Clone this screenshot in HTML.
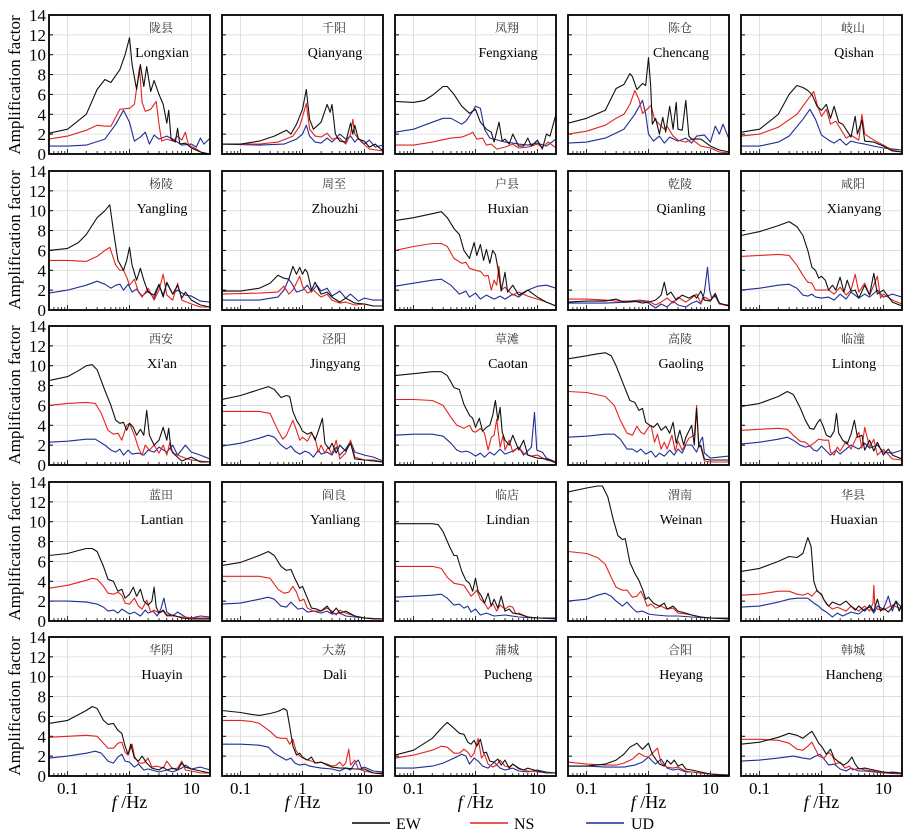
<!DOCTYPE html>
<html><head><meta charset="utf-8"><style>
html,body{margin:0;padding:0;background:#fff;}
svg{display:block;}
text{font-family:"Liberation Serif","Noto Serif CJK SC",serif;}
</style></head><body>
<svg id="chart" width="916" height="833" viewBox="0 0 916 833" xmlns="http://www.w3.org/2000/svg">
<text transform="translate(20,85) rotate(-90)" text-anchor="middle" font-size="17">Amplification factor</text>
<text transform="translate(20,240) rotate(-90)" text-anchor="middle" font-size="17">Amplification factor</text>
<text transform="translate(20,395) rotate(-90)" text-anchor="middle" font-size="17">Amplification factor</text>
<text transform="translate(20,551) rotate(-90)" text-anchor="middle" font-size="17">Amplification factor</text>
<text transform="translate(20,706) rotate(-90)" text-anchor="middle" font-size="17">Amplification factor</text>
<g>
<line x1="352" y1="823" x2="390" y2="823" stroke="#000" stroke-width="1.5"/>
<text x="396" y="829" font-size="16">EW</text>
<line x1="470" y1="823" x2="508" y2="823" stroke="#e3231c" stroke-width="1.5"/>
<text x="514" y="829" font-size="16">NS</text>
<line x1="586" y1="823" x2="624" y2="823" stroke="#1f2d96" stroke-width="1.5"/>
<text x="631" y="829" font-size="16">UD</text>
</g>
</svg>
<script>
const yTicks=[0,2,4,6,8,10,12,14];
const xTicks=[0.1,1,10];
const xTickLabels=["0.1","1","10"];
const cnNames=["陇县","千阳","凤翔","陈仓","岐山","杨陵","周至","户县","乾陵","咸阳","西安","泾阳","草滩","高陵","临潼","蓝田","阎良","临店","渭南","华县","华阴","大荔","蒲城","合阳","韩城"];
const enNames=["Longxian","Qianyang","Fengxiang","Chencang","Qishan","Yangling","Zhouzhi","Huxian","Qianling","Xianyang","Xi'an","Jingyang","Caotan","Gaoling","Lintong","Lantian","Yanliang","Lindian","Weinan","Huaxian","Huayin","Dali","Pucheng","Heyang","Hancheng"];
const ewLongxian=[[0.05,2.1],[0.1,2.5],[0.2,4],[0.3,6.5],[0.4,7.5],[0.5,7.2],[0.7,8.5],[0.85,10],[1,11.7],[1.1,9],[1.3,6.5],[1.5,9],[1.7,6.8],[1.9,8.8],[2.2,6.3],[2.5,7.4],[3,6],[3.5,5],[4,3.1],[4.3,4.4],[4.7,1.5],[5.5,1.2],[6,2.6],[6.5,1],[8,1.1],[10,0.6],[14,0.2],[20,0]];
const nsLongxian=[[0.05,1.5],[0.1,1.8],[0.2,2.4],[0.3,2.9],[0.4,2.8],[0.5,2.8],[0.7,4.5],[1,4.6],[1.2,5],[1.45,8.7],[1.6,5.2],[1.8,4.3],[2.2,4.5],[2.7,5.3],[3,3],[3.3,1.3],[4,1.5],[5,1.3],[6,1.8],[7,1.4],[8,2.2],[9,0.9],[12,0.5],[15,0.1],[20,0]];
const udLongxian=[[0.05,0.8],[0.1,0.8],[0.2,0.9],[0.4,1.5],[0.6,3],[0.8,4.4],[1,3.2],[1.2,1.3],[1.5,1.7],[1.8,2.2],[2.1,1],[2.5,1.9],[3,1.5],[4,1.8],[5,1.5],[7,0.9],[10,1],[12,0.7],[14,1.6],[16,1],[20,1.6]];
const ewQianyang=[[0.05,1],[0.1,1],[0.2,1.3],[0.35,1.8],[0.55,2.4],[0.65,2],[0.8,3],[1,4.5],[1.15,6.5],[1.3,3.5],[1.5,2.5],[2,3.2],[2.5,5],[2.8,4.2],[3,5],[3.4,2],[4,1.3],[5,1.2],[6,3.1],[6.5,2],[7,2.9],[8,1.5],[10,1.3],[12,0.7],[15,1],[20,0.3]];
const nsQianyang=[[0.05,1],[0.2,1],[0.4,1.2],[0.7,1.8],[0.9,2.8],[1.05,4.2],[1.15,5.1],[1.3,2.5],[1.6,1.8],[2,1.7],[2.5,2.1],[3,1.5],[4,1.6],[5,1],[6,2],[6.5,3.5],[7,2],[9,1.2],[12,0.5],[20,0.3]];
const udQianyang=[[0.05,1],[0.2,0.9],[0.5,1],[0.8,1.5],[1,2],[1.15,2.9],[1.3,1.8],[1.6,1.2],[2,1.1],[2.5,1.6],[3,1.2],[4,2],[5,1.5],[6,1.8],[7,1.2],[8,1.6],[10,1],[12,1.4],[15,0.7],[20,0.9]];
const ewFengxiang=[[0.05,5.3],[0.1,5.2],[0.15,5.4],[0.2,5.9],[0.3,6.8],[0.35,6.8],[0.45,6],[0.6,4.8],[0.8,4.1],[1,4.5],[1.2,3.2],[1.5,2.5],[1.8,2.2],[2,1.2],[2.4,3.2],[2.7,1.3],[3,1.5],[3.5,1],[4,2],[5,0.8],[6,0.8],[7,1.6],[8,0.8],[10,1.4],[12,0.5],[14,2],[16,1.8],[20,4]];
const nsFengxiang=[[0.05,0.9],[0.1,0.9],[0.2,1.2],[0.4,1.6],[0.6,1.7],[0.8,2],[0.9,2.2],[1.05,1.5],[1.3,1.6],[1.5,0.9],[1.8,1],[2.2,0.5],[3,0.7],[4,1],[5,0.6],[7,0.7],[10,1],[12,0.7],[15,1.2],[20,0.6]];
const udFengxiang=[[0.05,2.2],[0.1,2.5],[0.2,3.2],[0.3,3.6],[0.4,3.6],[0.6,3],[0.7,3.3],[0.9,4.3],[1,4.8],[1.2,4.6],[1.4,2.5],[1.7,1.6],[2,1.5],[3,1.2],[4,1.1],[5,1],[7,0.9],[10,1.1],[14,0.8],[20,1.5]];
const ewChencang=[[0.05,3.1],[0.1,3.6],[0.2,4.4],[0.3,6.6],[0.4,7],[0.5,8.1],[0.55,7.8],[0.65,6.5],[0.8,7.1],[0.9,6.9],[1,9.7],[1.08,7],[1.15,3],[1.3,3.6],[1.5,2],[1.7,3.7],[1.9,2.2],[2.2,4.8],[2.5,2.5],[2.8,5.2],[3,2.5],[3.5,2.4],[4,5.4],[4.5,1.8],[5,1.5],[7,1.5],[10,0.8],[14,0.4],[20,0.2]];
const nsChencang=[[0.05,2],[0.1,2.3],[0.2,2.9],[0.3,3.6],[0.4,4],[0.5,5],[0.6,6.4],[0.7,5.5],[0.8,4.1],[0.95,4.5],[1.1,4.9],[1.25,3.5],[1.5,3],[1.8,2.5],[2,2.8],[2.5,1.8],[3,1.4],[4,1.2],[5,1.5],[7,0.8],[10,0.6],[14,0.2],[20,0.1]];
const udChencang=[[0.05,1.1],[0.1,1.2],[0.2,1.6],[0.4,2.5],[0.6,4],[0.8,5.4],[0.9,4],[1,2],[1.2,1.3],[1.5,1.8],[1.8,1.1],[2.2,1.7],[3,1.3],[4,1.6],[5,1.1],[6,1.8],[8,1.9],[10,1.2],[12,2.8],[14,2],[16,3],[20,1.5]];
const ewQishan=[[0.05,2.2],[0.1,2.5],[0.2,4],[0.3,6],[0.4,6.9],[0.5,6.7],[0.6,6.4],[0.7,6],[0.85,4.8],[1,4.4],[1.2,5],[1.4,3.6],[1.6,4.8],[1.9,3.2],[2.2,3],[3,1.7],[3.5,3.8],[3.8,2],[4.5,3.4],[5,1.3],[7,1.2],[10,0.8],[14,0.3],[20,0.2]];
const nsQishan=[[0.05,1.8],[0.1,2],[0.2,2.7],[0.4,4],[0.6,5.5],[0.75,6.3],[0.85,5],[1,3.8],[1.2,4.5],[1.4,3],[1.7,3.3],[2,2.6],[2.5,1.6],[3,1.9],[4,1.4],[4.5,4],[5,2],[7,1.4],[10,0.9],[14,0.4],[20,0.2]];
const udQishan=[[0.05,0.8],[0.1,0.8],[0.2,1.2],[0.3,1.8],[0.5,3.5],[0.65,4.5],[0.8,3.5],[1,1.9],[1.3,1.4],[1.6,1.1],[2,1.5],[2.5,0.9],[3,1.3],[4,1.1],[5,1],[7,0.8],[10,0.6],[20,0.4]];
const ewYangling=[[0.05,6],[0.1,6.2],[0.15,6.8],[0.2,7.6],[0.3,9.3],[0.4,10],[0.48,10.6],[0.55,8],[0.65,5],[0.8,4],[0.9,5],[1,6.3],[1.1,4.5],[1.3,3],[1.5,4.2],[1.7,3],[2,1.8],[2.5,1.5],[3,2.6],[3.5,1.3],[4,2.8],[5,1.6],[6,2.5],[7,1.2],[8,1.8],[10,1],[14,0.5],[20,0.3]];
const nsYangling=[[0.05,5],[0.1,5],[0.2,4.9],[0.3,5.4],[0.4,6],[0.48,6.3],[0.6,4.5],[0.7,4],[0.8,4],[0.9,3.3],[1,2.5],[1.2,3.1],[1.4,1.8],[1.6,1.3],[2,2.2],[2.5,1],[3,2],[3.5,3.6],[4,1.5],[5,1],[6,2.7],[7,1],[10,0.6],[14,0.3],[20,0.3]];
const udYangling=[[0.05,1.7],[0.1,2],[0.2,2.5],[0.3,2.9],[0.4,2.6],[0.5,2.2],[0.6,2.5],[0.7,2.6],[0.8,2],[0.95,2.6],[1.1,1.8],[1.3,2.1],[1.6,1.4],[2,1.9],[2.5,1.2],[3,2.5],[3.5,1.5],[4,2.7],[5,1.6],[6,2],[8,1.5],[10,1.4],[14,0.9],[20,0.8]];
const ewZhouzhi=[[0.05,1.9],[0.1,1.9],[0.2,2.2],[0.3,2.7],[0.4,3.5],[0.5,3.2],[0.6,3.1],[0.7,4.4],[0.8,3.6],[0.9,4.3],[1,3.6],[1.1,4.1],[1.2,3.8],[1.4,2],[1.6,2.8],[2,1.6],[2.5,1.8],[3,1.3],[4,0.8],[5,1.2],[7,0.7],[10,0.6],[14,0.4],[20,0.4]];
const nsZhouzhi=[[0.05,1.6],[0.2,1.7],[0.4,1.8],[0.5,2.4],[0.6,1.6],[0.7,2],[0.9,3.4],[1,2.4],[1.2,1.7],[1.5,2],[2,1.3],[2.5,1.6],[3,1],[4,0.7],[5,0.8],[7,0.5],[10,0.6],[14,0.4],[20,0.4]];
const udZhouzhi=[[0.05,1],[0.2,1],[0.4,1.3],[0.5,2],[0.6,3.1],[0.7,2.5],[0.8,1.8],[1,2],[1.2,2.5],[1.4,1.8],[1.7,2.5],[2,1.9],[2.5,2.2],[3,1.4],[4,1.9],[5,1.2],[6,1.6],[8,0.9],[10,1.2],[14,1],[20,1]];
const ewHuxian=[[0.05,9],[0.1,9.3],[0.2,9.7],[0.28,9.9],[0.35,9.3],[0.45,8.2],[0.55,7.6],[0.65,6],[0.8,5.2],[0.95,6.8],[1.05,5.5],[1.2,6.6],[1.35,5],[1.5,6.1],[1.7,4.7],[1.9,6],[2.1,5.6],[2.3,4.2],[2.6,1.9],[3,3.8],[3.3,1.8],[4,2.5],[5,1.5],[7,2],[10,1.3],[14,0.8],[20,0.4]];
const nsHuxian=[[0.05,6],[0.1,6.4],[0.2,6.7],[0.28,6.7],[0.35,6.4],[0.45,5.2],[0.6,4.7],[0.7,4.8],[0.8,4.2],[1,4],[1.2,3.9],[1.4,3.4],[1.6,3.5],[1.8,2],[2,3],[2.2,2.5],[2.4,4.4],[2.6,2],[3,2.3],[4,1.5],[5,1.8],[7,1.4],[10,1.1],[14,0.8],[20,0.4]];
const udHuxian=[[0.05,2.4],[0.1,2.7],[0.2,3],[0.28,3.1],[0.4,2.5],[0.55,1.6],[0.7,1.9],[0.8,1.3],[1,1.7],[1.2,1.1],[1.5,1.5],[2,1.1],[2.5,1.4],[3,1.1],[4,1.6],[5,1.3],[7,2],[10,2.4],[14,2.5],[20,2.2]];
const ewQianling=[[0.05,0.8],[0.1,0.9],[0.2,0.9],[0.3,1.1],[0.4,0.8],[0.6,0.9],[0.8,0.7],[1,0.8],[1.3,1],[1.6,1.5],[1.8,2.8],[2,1.5],[2.3,1.8],[2.8,1],[3.5,1.5],[4.5,1.2],[5.5,1.5],[6,1.2],[7,1.9],[8,1],[10,0.9],[12,1.6],[14,0.7],[20,0.4]];
const nsQianling=[[0.05,1.1],[0.1,1.1],[0.2,1],[0.3,0.9],[0.5,0.9],[0.7,1],[1,0.9],[1.3,0.5],[1.6,0.8],[2,1.2],[2.5,0.7],[3,1.3],[4,0.8],[5,1.2],[6,1.6],[7,0.7],[8,1.3],[10,1],[12,1.7],[14,0.6],[20,0.4]];
const udQianling=[[0.05,0.7],[0.2,0.7],[0.5,0.8],[0.8,0.9],[1,0.7],[1.3,0.2],[1.6,0.6],[2,0.3],[2.5,0.9],[3,0.5],[4,0.3],[5,0.7],[6,0.9],[7,0.6],[8,1.8],[9,4.3],[9.7,2],[10.5,1.2],[12,1.4],[14,0.6],[20,0.5]];
const ewXianyang=[[0.05,7.5],[0.1,7.9],[0.2,8.5],[0.3,8.9],[0.4,8.4],[0.5,7.5],[0.6,6],[0.7,4.3],[0.8,4],[0.9,3.2],[1,3.4],[1.15,3],[1.3,2],[1.5,2.5],[1.7,2],[2,3.3],[2.3,1.8],[2.6,3],[3,1.9],[3.5,2],[4,1.2],[5,2.5],[6,1.5],[7,3.7],[8,1.6],[10,2],[14,0.8],[20,0.4]];
const nsXianyang=[[0.05,5.4],[0.1,5.5],[0.2,5.6],[0.3,5.5],[0.4,4.5],[0.5,3.5],[0.6,2.8],[0.7,2.7],[0.8,2],[1,2],[1.3,2],[1.6,1.6],[2,2.3],[2.5,1.5],[3,2],[3.5,3.6],[4,1.8],[5,2.7],[6,1.5],[7,2.5],[8,3.4],[9,1.2],[10,1.6],[14,1],[20,0.6]];
const udXianyang=[[0.05,2],[0.1,2.2],[0.2,2.5],[0.3,2.6],[0.4,2.2],[0.5,1.5],[0.6,1.4],[0.7,1.6],[0.8,1.3],[1,1.2],[1.3,1.3],[1.6,1],[2,1.6],[2.5,1.1],[3,1.8],[4,1.2],[5,1.6],[6,1.3],[8,2],[10,1.3],[14,1.6],[20,1.3]];
const ewXian=[[0.05,8.5],[0.1,8.9],[0.15,9.5],[0.2,10],[0.25,10.1],[0.3,9.6],[0.4,7.5],[0.5,6],[0.6,4.5],[0.7,4.2],[0.8,4.3],[0.9,3.5],[1,4.2],[1.15,3.8],[1.3,3],[1.5,3.6],[1.7,3],[1.9,5.5],[2.1,3],[2.5,2],[3,2.5],[3.5,3.8],[4,2.5],[4.3,3.7],[4.7,1.5],[5.5,1],[7,0.4],[10,0.8],[14,0.3],[20,0.3]];
const nsXian=[[0.05,6],[0.1,6.2],[0.2,6.3],[0.28,6.2],[0.35,5.2],[0.45,3.5],[0.55,3.1],[0.65,3.2],[0.75,2.5],[0.9,4],[1,4.2],[1.2,3],[1.4,1.7],[1.6,1],[1.8,2],[2.1,1.5],[2.5,2],[3,1.2],[3.5,2],[4,1],[4.5,2.3],[5,1.2],[6,1],[8,0.7],[10,0.5],[14,0.4],[20,0.3]];
const udXian=[[0.05,2.3],[0.1,2.4],[0.2,2.6],[0.28,2.6],[0.4,2],[0.5,1.5],[0.6,1.3],[0.7,1.6],[0.8,1],[0.95,1.5],[1.1,1.1],[1.4,1.2],[1.7,1],[2,1.5],[2.5,1.3],[3,1.8],[4,1.3],[5,2],[6,1],[8,2],[10,1.3],[14,1],[20,0.6]];
const ewJingyang=[[0.05,6.6],[0.1,7],[0.2,7.6],[0.28,7.9],[0.35,7.6],[0.45,6.8],[0.55,7],[0.62,6.9],[0.7,5.4],[0.8,4.5],[0.9,4],[1,3.4],[1.2,3.1],[1.4,3.3],[1.6,2.5],[1.8,3.4],[2.1,4.7],[2.3,2.2],[2.7,1.6],[3,2.2],[3.5,1.2],[4,2],[5,1.4],[6,2.2],[7,0.6],[10,0.5],[14,0.4],[20,0.3]];
const nsJingyang=[[0.05,5.4],[0.1,5.4],[0.2,5.4],[0.3,5.2],[0.4,3.5],[0.48,2.6],[0.55,3],[0.7,4.5],[0.8,3.5],[0.9,2.5],[1,2.8],[1.2,2.4],[1.4,3.2],[1.6,2.7],[1.8,1.3],[2,2],[2.3,1.2],[2.6,1.8],[3,1.1],[3.5,2.5],[4,0.6],[5,1.2],[6,2.5],[7,0.8],[10,0.5],[14,0.5],[20,0.3]];
const udJingyang=[[0.05,1.9],[0.1,2.2],[0.2,2.7],[0.28,3],[0.35,2.8],[0.45,2],[0.55,1.6],[0.65,1.9],[0.75,1.4],[0.9,1.1],[1.1,1.4],[1.3,1.2],[1.5,0.8],[1.8,1.5],[2,1.1],[2.5,1.3],[3,1],[3.5,1.8],[4,1],[5,1.6],[6,2.4],[7,1.3],[10,1],[14,0.8],[20,0.4]];
const ewCaotan=[[0.05,9],[0.1,9.2],[0.2,9.4],[0.28,9.4],[0.35,9],[0.45,7.8],[0.55,7.6],[0.65,6.1],[0.8,5],[0.9,4.7],[1,3.8],[1.15,4.7],[1.3,3.4],[1.5,3.8],[1.7,4],[1.9,5],[2.1,6.5],[2.3,4.5],[2.5,5.8],[2.7,3.3],[3,2.5],[3.5,2],[4,3],[5,1.5],[6,2.5],[7,1],[10,0.7],[14,0.6],[20,0.2]];
const nsCaotan=[[0.05,6.6],[0.1,6.6],[0.2,6.5],[0.3,6],[0.4,4.8],[0.5,4],[0.65,3.7],[0.8,4],[0.9,3.4],[1,3.3],[1.2,3.7],[1.4,3.2],[1.6,1.5],[1.8,2.8],[2,3],[2.2,4.6],[2.5,1.8],[2.8,3],[3,1.5],[3.5,2.5],[4,1.3],[5,1.8],[6,1.2],[8,0.9],[10,1],[14,0.5],[20,0.3]];
const udCaotan=[[0.05,3],[0.1,3.1],[0.2,3.1],[0.3,2.9],[0.4,2.2],[0.5,1.5],[0.6,1.3],[0.7,1.4],[0.8,1.3],[1,0.9],[1.2,1.2],[1.4,0.8],[1.7,1.3],[2,1],[2.5,1.6],[3,1.1],[4,1.4],[5,1.8],[6,1],[8,1.8],[9,5.3],[9.8,1.5],[12,1.3],[14,0.7],[20,0.3]];
const ewGaoling=[[0.05,10.7],[0.1,11],[0.15,11.2],[0.2,11.3],[0.25,11],[0.3,10],[0.4,8],[0.5,6.5],[0.6,6.3],[0.7,5.5],[0.8,5.7],[0.9,4.3],[1.05,4],[1.2,3.8],[1.4,4.2],[1.6,3.5],[1.9,3.9],[2.2,3.2],[2.5,4.3],[2.8,2.2],[3.2,3.5],[3.7,2],[4,2.8],[5,4],[5.5,2],[6,5.7],[6.5,1.8],[7,2],[8,0.6],[10,0.5],[14,0.5],[20,0.5]];
const nsGaoling=[[0.05,7.4],[0.1,7.3],[0.2,6.9],[0.28,6],[0.35,4.5],[0.45,3.2],[0.55,3],[0.65,3.9],[0.75,3.3],[0.85,3.1],[1,3.8],[1.1,4],[1.25,2.3],[1.4,3.1],[1.6,1.6],[1.8,2.3],[2,1.6],[2.4,3],[2.7,1.4],[3,2.4],[3.5,1.5],[4.5,2.7],[5.5,3],[6,6],[6.5,2],[7,1.8],[8,0.4],[10,0.3],[14,0.3],[20,0.3]];
const udGaoling=[[0.05,2.8],[0.1,2.9],[0.2,3.1],[0.28,3.1],[0.35,2.6],[0.45,1.6],[0.55,1.6],[0.65,1.3],[0.75,1.6],[0.9,1.1],[1.1,1.4],[1.3,0.8],[1.5,1.2],[1.8,0.9],[2.2,1.5],[2.6,1],[3,1.6],[3.5,1.2],[4,2],[5,2],[6,1.3],[7,2.5],[7.5,2.8],[8,1.2],[10,0.7],[14,0.8],[20,0.9]];
const ewLintong=[[0.05,5.9],[0.1,6.2],[0.2,6.9],[0.28,7.4],[0.35,7.1],[0.45,5.8],[0.55,4.5],[0.65,3.7],[0.75,3.6],[0.85,4.2],[0.95,4.6],[1.05,4],[1.2,3],[1.4,2.8],[1.6,3.4],[1.75,5.2],[1.9,3.2],[2.2,2.5],[2.6,2.1],[3,3.1],[3.4,4.5],[3.8,2.8],[4.5,3],[5,1.5],[6,2.5],[7,1.4],[8,2.3],[10,1],[12,1.6],[14,1],[20,0.6]];
const nsLintong=[[0.05,3.5],[0.1,3.6],[0.2,3.7],[0.28,3.6],[0.35,3],[0.45,2.4],[0.55,2.3],[0.65,1.9],[0.75,2.2],[0.9,2.6],[1.1,2.5],[1.3,2.5],[1.4,1.3],[1.6,1],[1.8,1.8],[2,1.4],[2.5,2.4],[3,1.6],[3.5,2.5],[4,3.3],[4.5,1.7],[5,3.8],[6,1.8],[7,2.6],[8,1],[10,1.6],[14,0.6],[20,0.5]];
const udLintong=[[0.05,2.1],[0.1,2.3],[0.2,2.6],[0.28,2.8],[0.35,2.5],[0.45,2],[0.55,1.8],[0.65,1.9],[0.75,1.5],[0.85,1.4],[1,1.9],[1.2,1.4],[1.4,1],[1.7,1.5],[2,1.1],[2.5,1.6],[3,2],[4,1.6],[5,2.2],[6,1.7],[8,2],[10,1.3],[14,1.2],[20,1.5]];
const ewLantian=[[0.05,6.6],[0.1,6.8],[0.15,7.1],[0.2,7.3],[0.25,7.3],[0.3,7],[0.38,5.5],[0.45,4.2],[0.55,4],[0.65,3],[0.75,3.2],[0.85,2.3],[1,2.7],[1.15,3.4],[1.3,2.5],[1.5,3.2],[1.7,2],[2,1.6],[2.3,2],[2.5,3.4],[2.7,1.4],[3,0.8],[3.5,1.1],[4,0.6],[5,0.6],[7,0.3],[10,0.2],[14,0.2],[20,0.2]];
const nsLantian=[[0.05,3.3],[0.1,3.6],[0.2,4.1],[0.25,4.3],[0.3,4.2],[0.38,3.5],[0.45,2.8],[0.55,2.7],[0.65,2.9],[0.75,2.6],[0.85,1.8],[1,1.7],[1.2,2.3],[1.4,1.5],[1.6,1.2],[1.9,2.1],[2.2,0.9],[2.5,1.1],[3,0.8],[3.5,1],[4,0.5],[5,0.5],[7,0.4],[10,0.3],[14,0.3],[20,0.3]];
const udLantian=[[0.05,2],[0.1,2],[0.2,1.9],[0.3,1.7],[0.38,1.4],[0.45,1],[0.55,1.1],[0.65,0.8],[0.75,1.2],[0.85,1],[1,0.7],[1.2,0.9],[1.5,0.5],[1.8,1.1],[2,0.8],[2.4,1],[2.8,0.5],[3.2,1.2],[3.6,2.3],[4,0.9],[5,0.5],[6,0.9],[8,0.4],[10,0.3],[14,0.5],[20,0.4]];
const ewYanliang=[[0.05,5.6],[0.1,5.9],[0.2,6.6],[0.28,7],[0.35,6.6],[0.45,5.5],[0.55,5.1],[0.65,5.2],[0.75,4.3],[0.9,3.3],[1,3.5],[1.2,2.3],[1.4,1.3],[1.7,1.2],[2,1],[2.5,1.5],[3,0.8],[3.5,1.3],[4,0.8],[5,1],[7,0.5],[10,0.3],[14,0.2],[20,0.2]];
const nsYanliang=[[0.05,4.5],[0.1,4.5],[0.2,4.5],[0.3,4.3],[0.4,3.2],[0.5,2.8],[0.6,2.9],[0.7,3.5],[0.8,2.9],[0.9,2],[1.05,2.2],[1.2,1.3],[1.5,1],[2,1],[2.5,1.3],[3,1],[3.5,0.6],[4,1.1],[5,0.8],[7,0.5],[10,0.3],[20,0.2]];
const udYanliang=[[0.05,1.7],[0.1,1.8],[0.2,2.2],[0.28,2.4],[0.35,2.2],[0.45,1.5],[0.55,1.4],[0.65,1.9],[0.75,1.5],[0.85,1.2],[1,1.3],[1.2,0.9],[1.5,1],[2,0.8],[2.5,1],[3,0.7],[4,0.8],[5,0.5],[7,0.4],[10,0.3],[20,0.2]];
const ewLindian=[[0.05,9.8],[0.1,9.8],[0.2,9.8],[0.25,9.7],[0.3,9],[0.38,7.5],[0.45,6.6],[0.5,6.6],[0.6,5],[0.7,4.1],[0.8,3.8],[0.9,3],[1,4.3],[1.1,3],[1.25,2.5],[1.4,1.8],[1.6,2.8],[1.8,1.5],[2,2.2],[2.3,1.3],[2.6,2.5],[3,1],[3.5,1.2],[4,0.8],[5,0.7],[7,0.4],[10,0.3],[20,0.3]];
const nsLindian=[[0.05,5.5],[0.1,5.5],[0.2,5.5],[0.28,5.3],[0.35,4.4],[0.45,3.8],[0.55,3.7],[0.65,3.6],[0.75,3],[0.85,2.5],[0.95,2.8],[1.05,3.1],[1.2,2.2],[1.4,1.8],[1.6,1.2],[1.9,1.8],[2.2,1],[2.5,1.6],[3,1.2],[3.5,1.5],[4,1.4],[4.5,0.7],[5,0.8],[7,0.4],[10,0.3],[20,0.3]];
const udLindian=[[0.05,2.4],[0.1,2.5],[0.2,2.6],[0.28,2.7],[0.35,2.3],[0.45,1.6],[0.55,1.7],[0.65,1.3],[0.75,1.5],[0.85,0.9],[1,1.2],[1.2,0.6],[1.5,0.8],[2,0.5],[3,0.6],[5,0.4],[10,0.3],[20,0.2]];
const ewWeinan=[[0.05,13],[0.1,13.4],[0.15,13.6],[0.18,13.6],[0.22,12.5],[0.27,10.2],[0.32,8.6],[0.38,8.2],[0.42,8.3],[0.5,5.9],[0.6,4.8],[0.7,4.1],[0.8,3.2],[0.9,2.2],[1,2.4],[1.2,1.8],[1.5,1.5],[1.8,1.8],[2,1.2],[2.5,1.5],[3,1],[4,0.8],[5,0.6],[7,0.4],[10,0.3],[20,0.2]];
const nsWeinan=[[0.05,7],[0.1,6.8],[0.15,6.4],[0.2,5.7],[0.25,4.4],[0.3,3.4],[0.38,3.1],[0.45,3.1],[0.55,2.4],[0.65,2.5],[0.75,3],[0.85,2.3],[0.95,1.5],[1.1,1.7],[1.3,1.3],[1.6,1.5],[2,1.2],[2.5,1.3],[3,0.8],[4,0.7],[5,0.6],[7,0.4],[10,0.3],[20,0.2]];
const udWeinan=[[0.05,2],[0.1,2.2],[0.15,2.6],[0.2,2.8],[0.25,2.5],[0.3,2],[0.38,1.5],[0.45,1.9],[0.55,1.3],[0.65,0.9],[0.8,1],[1,0.7],[1.3,0.6],[2,0.5],[3,0.5],[5,0.4],[10,0.3],[20,0.3]];
const ewHuaxian=[[0.05,5],[0.1,5.3],[0.2,6],[0.3,6.5],[0.4,6.4],[0.5,6.8],[0.6,8.4],[0.68,7.5],[0.75,4],[0.85,3],[1,2.7],[1.1,2.1],[1.3,1.5],[1.5,1.9],[2,1.6],[2.5,2],[3,1.5],[3.5,1.1],[4,1.5],[5,1],[6,1.6],[7,1],[8,2.2],[9,1],[10,1.3],[12,0.9],[14,1.4],[16,2],[18,1],[20,1.7]];
const nsHuaxian=[[0.05,2.6],[0.1,2.7],[0.2,3],[0.3,3],[0.4,2.7],[0.5,2.6],[0.6,2.8],[0.7,2.5],[0.85,3.1],[1,2.6],[1.2,1.7],[1.5,1.2],[1.8,1.4],[2.5,1],[3,1.5],[4,1],[5,1.5],[6,1],[6.8,1.8],[7,3.6],[7.3,1.5],[8,1.2],[10,1.1],[14,1.6],[20,1.2]];
const udHuaxian=[[0.05,1.4],[0.1,1.5],[0.2,1.9],[0.3,2.2],[0.4,2.3],[0.5,2.3],[0.6,2.3],[0.75,1.8],[0.9,1.5],[1,1.2],[1.2,0.9],[1.5,0.4],[1.8,0.8],[2.2,0.5],[3,0.9],[4,0.7],[5,1.2],[6,1.4],[7,0.8],[8,1.5],[10,1.2],[12,2.5],[14,1],[16,2],[20,1.3]];
const ewHuayin=[[0.05,5.3],[0.1,5.6],[0.2,6.6],[0.25,7],[0.3,6.8],[0.38,5.6],[0.45,5.2],[0.55,5.3],[0.65,4.6],[0.75,4.3],[0.85,3],[0.95,2.2],[1.05,3.2],[1.2,1.8],[1.4,1.5],[1.6,2],[1.9,1.3],[2.3,0.8],[3,0.6],[3.5,0.9],[4,0.6],[5,0.8],[6,0.6],[7,1.3],[8,0.9],[10,0.7],[14,0.5],[20,0.3]];
const nsHuayin=[[0.05,3.9],[0.1,4],[0.2,4.1],[0.3,4],[0.38,3.3],[0.45,2.8],[0.55,2.8],[0.65,3.3],[0.75,3.4],[0.85,2.4],[0.95,2.1],[1.1,3.2],[1.2,2],[1.4,1.3],[1.7,1.3],[2,1.8],[2.3,0.9],[2.8,1],[3.5,0.8],[4,1.5],[5,0.7],[6,0.8],[7,1.5],[8,0.6],[10,0.5],[14,0.3],[20,0.3]];
const udHuayin=[[0.05,1.8],[0.1,2],[0.2,2.3],[0.28,2.5],[0.35,2.3],[0.45,1.5],[0.55,1.3],[0.65,1.9],[0.75,2.2],[0.85,1.5],[1,1.4],[1.2,0.9],[1.4,1.2],[1.7,0.6],[2,0.7],[3,0.4],[4,0.6],[5,0.4],[7,0.8],[8,1.1],[10,0.7],[14,0.9],[20,0.6]];
const ewDali=[[0.05,6.6],[0.1,6.4],[0.15,6.2],[0.2,6.1],[0.3,6.3],[0.4,6.5],[0.5,6.8],[0.56,6.6],[0.62,5],[0.7,3],[0.8,2.1],[0.9,2.3],[1,1.9],[1.2,1.6],[1.4,1.9],[1.6,1.3],[2,1.4],[2.5,1.1],[3,0.9],[4,0.8],[5,0.8],[7,0.7],[10,0.7],[14,0.3],[20,0.2]];
const nsDali=[[0.05,5.6],[0.1,5.6],[0.15,5.5],[0.2,5.3],[0.3,4.5],[0.38,3.9],[0.45,3.8],[0.55,3.8],[0.62,3.2],[0.7,3.7],[0.78,2.6],[0.9,2],[1.1,1.7],[1.4,1.5],[1.7,1.3],[2,1.4],[2.5,1.2],[3,1],[3.5,1.1],[4,1.4],[4.5,1],[5,1.3],[5.6,2.7],[6,1.1],[7,1.6],[8,0.7],[10,0.5],[14,0.3],[20,0.3]];
const udDali=[[0.05,3.2],[0.1,3.2],[0.2,3.1],[0.28,2.9],[0.35,2.3],[0.45,1.9],[0.55,1.6],[0.65,1.8],[0.75,1.3],[0.9,1.1],[1.1,1.2],[1.3,1],[1.6,0.9],[2,0.8],[3,0.7],[4,0.5],[5,0.8],[6,0.6],[7,1.3],[8,1.6],[9,0.8],[10,0.9],[14,0.5],[20,0.4]];
const ewPucheng=[[0.05,2.1],[0.1,2.6],[0.2,3.8],[0.3,5],[0.35,5.4],[0.45,4.8],[0.55,4.3],[0.65,4.2],[0.75,3.4],[0.85,3.2],[0.95,3.6],[1.05,3],[1.2,3.7],[1.35,2.3],[1.5,2.4],[1.7,1.5],[2,1.4],[2.3,1.7],[2.6,1.1],[3,1.6],[3.5,0.8],[4,1.2],[5,0.8],[6,0.6],[7,0.8],[10,0.5],[14,0.3],[20,0.3]];
const nsPucheng=[[0.05,1.8],[0.1,2.1],[0.2,2.6],[0.28,3],[0.35,2.9],[0.45,2.3],[0.55,2.3],[0.65,2.7],[0.75,2.4],[0.85,1.9],[0.95,2.3],[1.1,3.8],[1.25,1.8],[1.4,2.2],[1.6,1.2],[1.9,0.9],[2.2,1.1],[2.5,1.6],[3,1],[3.5,0.9],[4,1.2],[5,0.7],[7,0.5],[10,0.4],[20,0.3]];
const udPucheng=[[0.05,0.8],[0.1,0.8],[0.2,1],[0.3,1.3],[0.45,1.8],[0.6,2.2],[0.7,2],[0.8,1.2],[0.95,1.8],[1.1,1.5],[1.3,1],[1.6,0.8],[2,1.4],[2.5,0.8],[3,0.6],[4,0.8],[5,0.5],[7,0.4],[10,0.6],[14,0.4],[20,0.3]];
const ewHeyang=[[0.05,1],[0.1,1],[0.2,1.2],[0.3,1.6],[0.4,2.2],[0.5,2.9],[0.65,3.3],[0.8,2.7],[1,3.3],[1.15,2.2],[1.3,1.7],[1.5,1.2],[1.8,1],[2,1.6],[2.3,1.2],[2.6,1.6],[3,1],[3.5,1.2],[4,0.7],[5,0.6],[7,0.4],[10,0.2],[14,0.1],[20,0.1]];
const nsHeyang=[[0.05,1.4],[0.1,1.2],[0.2,1.1],[0.3,1.1],[0.4,1.3],[0.55,1.7],[0.7,2.3],[0.85,2],[1,1.9],[1.2,2.4],[1.4,2.8],[1.6,1.3],[2,0.9],[2.5,0.8],[3,0.9],[4,0.5],[5,0.4],[7,0.3],[10,0.2],[20,0.1]];
const udHeyang=[[0.05,1],[0.1,1],[0.2,0.9],[0.4,0.9],[0.6,1.1],[0.8,1.4],[1,1.9],[1.15,1.5],[1.3,1.2],[1.6,1.7],[2,0.8],[2.5,0.6],[3,0.7],[4,0.4],[5,0.4],[7,0.3],[10,0.2],[20,0.1]];
const ewHancheng=[[0.05,3.2],[0.1,3.4],[0.2,3.9],[0.3,4.3],[0.4,4.1],[0.5,3.8],[0.6,4.2],[0.7,4.5],[0.8,3.9],[0.9,3.3],[1,3],[1.2,2.2],[1.4,2.7],[1.6,1.8],[2,1.3],[2.3,1.1],[2.7,1.4],[3.1,1.9],[3.5,1.2],[4,0.7],[5,0.8],[7,0.6],[10,0.4],[14,0.3],[20,0.3]];
const nsHancheng=[[0.05,3.7],[0.1,3.7],[0.2,3.6],[0.3,3.3],[0.4,2.7],[0.5,2.6],[0.6,3],[0.7,3.4],[0.8,2.7],[0.9,2],[1.1,1.8],[1.3,2.4],[1.5,2],[1.7,1.2],[2,1.4],[2.4,0.8],[2.8,1],[3.2,0.6],[4,0.8],[5,0.6],[7,0.5],[10,0.3],[20,0.2]];
const udHancheng=[[0.05,1.5],[0.1,1.6],[0.2,1.8],[0.35,2],[0.5,1.8],[0.65,1.7],[0.8,2],[0.95,2.2],[1.1,1.7],[1.3,1.1],[1.6,1.2],[2,0.7],[2.5,0.5],[3,0.8],[4,0.5],[5,0.5],[7,0.4],[10,0.3],[14,0.4],[20,0.3]];

const ewSeries=[ewLongxian,ewQianyang,ewFengxiang,ewChencang,ewQishan,ewYangling,ewZhouzhi,ewHuxian,ewQianling,ewXianyang,ewXian,ewJingyang,ewCaotan,ewGaoling,ewLintong,ewLantian,ewYanliang,ewLindian,ewWeinan,ewHuaxian,ewHuayin,ewDali,ewPucheng,ewHeyang,ewHancheng];
const nsSeries=[nsLongxian,nsQianyang,nsFengxiang,nsChencang,nsQishan,nsYangling,nsZhouzhi,nsHuxian,nsQianling,nsXianyang,nsXian,nsJingyang,nsCaotan,nsGaoling,nsLintong,nsLantian,nsYanliang,nsLindian,nsWeinan,nsHuaxian,nsHuayin,nsDali,nsPucheng,nsHeyang,nsHancheng];
const udSeries=[udLongxian,udQianyang,udFengxiang,udChencang,udQishan,udYangling,udZhouzhi,udHuxian,udQianling,udXianyang,udXian,udJingyang,udCaotan,udGaoling,udLintong,udLantian,udYanliang,udLindian,udWeinan,udHuaxian,udHuayin,udDali,udPucheng,udHeyang,udHancheng];

const NS="http://www.w3.org/2000/svg";
const svg=document.getElementById('chart');
const colLeft=[49,222,395,568,741], rowTop=[15,171,326,482,637], PW=161, PH=139;
const FMIN=0.05, FMAX=20, YMAX=14;
function mk(tag,attrs,parent){const e=document.createElementNS(NS,tag);for(const k in attrs)e.setAttribute(k,attrs[k]);(parent||svg).appendChild(e);return e;}
function xScale(f,x0){return x0+(Math.log10(f)-Math.log10(FMIN))/(Math.log10(FMAX)-Math.log10(FMIN))*PW;}
function yScale(v,y0){return y0+PH-v/YMAX*PH;}
const seriesColors={ud:"#1f2d96",ns:"#e3231c",ew:"#111"};
for(let i=0;i<25;i++){
  const c=i%5,r=Math.floor(i/5),x0=colLeft[c],y0=rowTop[r];
  const g=mk('g',{});
  
  
  const cp=mk('clipPath',{id:'cp'+i},g);mk('rect',{x:x0,y:y0,width:PW,height:PH},cp);
  yTicks.forEach(t=>{if(t>0&&t<YMAX){const gl=mk('line',{x1:x0,x2:x0+PW,y1:yScale(t,y0),y2:yScale(t,y0),stroke:"#d8d8d8","stroke-width":0.8},g);}
    const tk=mk('line',{x1:x0,x2:x0+4,y1:yScale(t,y0),y2:yScale(t,y0),stroke:"#000","stroke-width":1},g);});
  xTicks.forEach(t=>{const xx=xScale(t,x0);const gl=mk('line',{x1:xx,x2:xx,y1:y0,y2:y0+PH,stroke:"#d8d8d8","stroke-width":0.8},g);});
  for(let d=0.01;d<20;d*=10){for(let m=1;m<10;m++){const f=d*m;if(f<FMIN||f>FMAX)continue;const xx=xScale(f,x0);const len=m===1?5:3;
    const tk=mk('line',{x1:xx,x2:xx,y1:y0+PH,y2:y0+PH-len,stroke:"#000","stroke-width":0.8},g);}}
  const sets=[['ud',udSeries[i]],['ns',nsSeries[i]],['ew',ewSeries[i]]];
  sets.forEach(([k,data])=>{
    const d=data.map((p,j)=>(j?'L':'M')+xScale(p[0],x0).toFixed(1)+','+yScale(p[1],y0).toFixed(1)).join('');
    const pth=mk('path',{d:d,fill:"none",stroke:seriesColors[k],"stroke-width":1.1,"stroke-linejoin":"round","clip-path":"url(#cp"+i+")"},g);
    
    
  });
  const fr=mk('rect',{x:x0,y:y0,width:PW,height:PH,fill:"none",stroke:"#000","stroke-width":1.8},g);
  
  
  const t1=mk('text',{x:x0+112,y:y0+17,"text-anchor":"middle","font-size":12,fill:"#333"},g);t1.textContent=cnNames[i];
  
  
  const t2=mk('text',{x:x0+113,y:y0+42,"text-anchor":"middle","font-size":14},g);t2.textContent=enNames[i];
  
  
  if(c===0){yTicks.forEach(t=>{const tl=mk('text',{x:x0-3,y:yScale(t,y0)+6,"text-anchor":"end","font-size":17},g);tl.textContent=t;
    
    });}
  if(r===4){xTicks.forEach((t,j)=>{const tl=mk('text',{x:xScale(t,x0),y:y0+PH+18,"text-anchor":"middle","font-size":17},g);tl.textContent=xTickLabels[j];
      
      });
    const xt=mk('text',{x:x0+PW/2,y:y0+PH+32,"text-anchor":"middle","font-size":18},g);
    
    
    const fi=mk('tspan',{"font-style":"italic"},xt);fi.textContent='f';
    const hz=mk('tspan',{},xt);hz.textContent=' /Hz';}
}
</script>
</body></html>
